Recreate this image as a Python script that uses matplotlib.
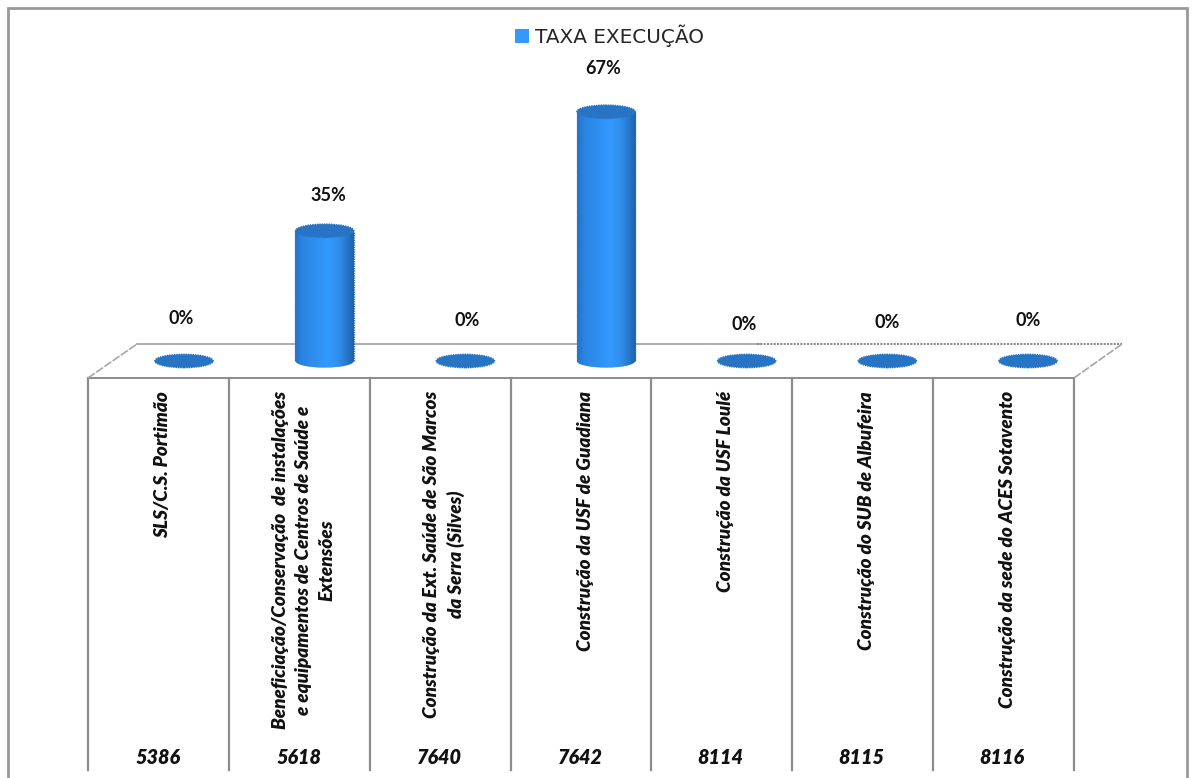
import matplotlib
matplotlib.use("Agg")
import numpy as np
import matplotlib.pyplot as plt
from matplotlib.patches import Ellipse, Patch, Rectangle
from matplotlib.colors import LinearSegmentedColormap

codes = ["5386", "5618", "7640", "7642", "8114", "8115", "8116"]
labels = [
    "SLS/C.S. Portimão",
    "Beneficiação/Conservação  de instalações\ne equipamentos de Centros de Saúde e\nExtensões",
    "Construção da Ext. Saúde de São Marcos\nda Serra (Silves)",
    "Construção da USF de Guadiana",
    "Construção da USF Loulé",
    "Construção do SUB de Albufeira",
    "Construção da sede do ACES Sotavento",
]
values = [0, 35, 0, 67, 0, 0, 0]
series_name = "TAXA EXECUÇÃO"

W, H = 1194, 778
X0, DX, Y0, DY = 184.0, 140.67, 361.0, 3.72
GREY = "#8c8c8c"
cmap = LinearSegmentedColormap.from_list(
    "cyl", [(0, "#2272c8"), (0.12, "#2a84e0"), (0.55, "#3399ff"), (0.72, "#3191f0"),
            (0.88, "#2878cc"), (1, "#1f5fa8")])

fig = plt.figure(figsize=(W / 100, H / 100), dpi=100, facecolor="white")
px = fig.add_axes([0, 0, 1, 1], zorder=0)
px.set_xlim(0, W); px.set_ylim(H, 0); px.axis("off")
ax = fig.add_axes([0, 0, 1, 1], zorder=1)
ax.patch.set_alpha(0); ax.axis("off")

# outer frame
px.plot([8, 8, 1187, 1187], [778, 8, 8, 778], color="#999999", lw=2, solid_joinstyle="miter")
# chart floor and cells
for x in np.linspace(88, 1074, 8):
    px.plot([x, x], [378, 770], color=GREY, lw=1.6)
px.plot([88, 1074], [378, 378], color=GREY, lw=1.4)
px.plot([137, 760], [344, 344], color="#a6a6a6", lw=1.3)
px.plot([757, 1122], [343.5, 343.5], color="#8c8c8c", lw=1.5, ls=(0, (1, 0.6)))
px.plot([88, 137], [378, 344], color="#a6a6a6", lw=1.2, ls=(0, (5, 1)))
px.plot([1074, 1122], [378, 344], color="#a6a6a6", lw=1.2, ls=(0, (5, 1)))

pos = np.arange(len(values))
bar_w, ell_h = 0.415, 3.6
bars = ax.bar(pos, values, width=bar_w, color="none", edgecolor="none", zorder=2)
grad = np.linspace(0, 1, 256).reshape(1, -1)
for p, v, b in zip(pos, values, bars):
    if v > 0:
        ext = (p - bar_w / 2, p + bar_w / 2, -ell_h / 2, v)
        im = ax.imshow(grad, cmap=cmap, aspect="auto", zorder=2, extent=ext)
        im.set_clip_path(Rectangle((p - bar_w / 2, 0), bar_w, v, transform=ax.transData))
        im2 = ax.imshow(grad, cmap=cmap, aspect="auto", zorder=2, extent=ext)
        im2.set_clip_path(Ellipse((p, 0), bar_w, ell_h, transform=ax.transData))
        ax.plot([p - bar_w / 2] * 2, [0, v], color="#3a79bd", lw=1.0, ls=(0, (1, 0.7)), zorder=3)
        ax.plot([p + bar_w / 2] * 2, [0, v], color="#3a6ea8", lw=1.0, ls=(0, (1, 0.7)), zorder=3)
    top = Ellipse((p, v), bar_w, ell_h, zorder=4, facecolor="#2874c4",
                  edgecolor="#2874c4", lw=1.0, ls=(0, (1, 0.7)))
    ax.add_patch(top)

ax.set_xlim((0 - X0) / DX, (W - X0) / DX)
ax.set_ylim((Y0 - H) / DY, Y0 / DY)

# value labels
offsets = [(-3, 42), (4, 35), (2, 41), (-3, 43), (-2, 37), (0, 39), (0, 41)]
for p, v, off in zip(pos, values, offsets):
    ax.annotate(f"{v}%", (p, v), xytext=(off[0] * 0.72, off[1] * 0.72), textcoords="offset points",
                ha="center", va="center", family="Lato", fontsize=13,
                fontweight="bold", color="#111111", zorder=5)

# category labels and codes
for p, lab, code in zip(pos, labels, codes):
    x = (X0 + DX * p - 21 - X0) / DX
    ax.text(x, (Y0 - 391) / DY, lab, rotation=90, ha="center", va="top", multialignment="center",
            family="Lato", fontsize=13.6, fontweight="heavy", fontstyle="italic",
            color="#111111", linespacing=1.47, zorder=5)
    ax.text((X0 + DX * p - 26 - X0) / DX, (Y0 - 758) / DY, code, ha="center", va="center",
            family="Lato", fontsize=14.2, fontweight="heavy", fontstyle="italic", color="#111111", zorder=5)

leg = ax.legend(handles=[Patch(facecolor="#3399ff", edgecolor="none", label=series_name)],
                loc="center", bbox_to_anchor=(609.5 / W, 1 - 36 / H), frameon=False,
                prop={"family": "DejaVu Sans", "size": 14.4},
                handlelength=0.66, handleheight=0.66, handletextpad=0.3, borderpad=0, borderaxespad=0)
for t in leg.get_texts():
    t.set_color("#262626")

fig.savefig("out.png", dpi=100, facecolor="white")
